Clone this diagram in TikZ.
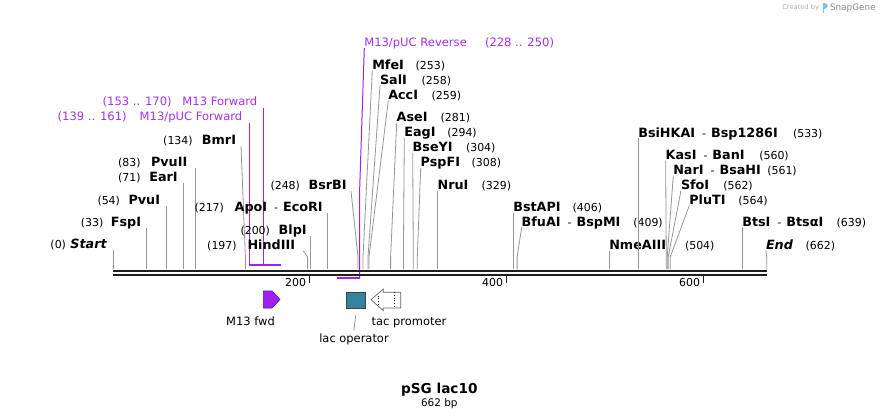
\documentclass[tikz,border=0pt]{standalone}
\usepackage{fontspec}
\setmainfont{DejaVu Sans}
\usetikzlibrary{calc}
\definecolor{primer}{RGB}{160,32,240}
\definecolor{ptext}{RGB}{165,50,240}
\definecolor{opteal}{RGB}{49,132,155}
\definecolor{cutline}{RGB}{150,150,150}
\definecolor{seqline}{RGB}{30,30,30}
\definecolor{logoblue}{RGB}{120,195,240}
\newcommand\nmb[1]{{\fontsize{12.8}{14}\selectfont\bfseries #1}}
\newcommand\nrm[1]{{\fontsize{11}{13}\selectfont #1}}
\newcommand\ptx[1]{{\fontsize{11.6}{13}\selectfont #1}}
\newcommand\hy{\hspace{7bp}{\fontsize{11}{13}\selectfont\mdseries -}\hspace{5bp}}
\tikzset{
  lab/.style={inner sep=0pt, outer sep=0pt, text=black},
  labL/.style={lab, anchor=base east},
  labR/.style={lab, anchor=base west},
  cut/.style={draw=cutline, line width=0.8bp},
  prm/.style={draw=primer, line width=1bp},
  prmbar/.style={draw=primer, line width=1.8bp},
  seq/.style={draw=seqline, line width=2.6bp},
  tickmark/.style={draw=seqline, line width=1.4bp},
}
% left label: id, name right x, y centre, name, line top x, site x, number, number right x
\newcommand\enzL[8]{%
  \node[labL] (#1) at (#2,{#3+4.6}) {\nmb{#4}};
  \node[labL] (#1-n) at (#8,{#3+4.6}) {\nrm{#7}};
  \coordinate (#1-s) at (#6,269);
  \draw[cut] ([shift={({#5-#2},1.4)}]#1.base east) -- ($(#1-s)+(0,-12)$) -- (#1-s);
}
% right label: id, name left x, y centre, name, site x, number, number left x
\newcommand\enzR[7]{%
  \node[labR] (#1) at (#2,{#3+4.6}) {\nmb{#4}};
  \node[labR] (#1-n) at (#7,{#3+4.6}) {\nrm{#6}};
  \coordinate (#1-s) at (#5,269);
  \draw[cut] ([shift={(0,0.9)}]#1.base west) -- ($(#1-s)+(0,-12)$) -- (#1-s);
}
\begin{document}
\begin{tikzpicture}[x=1bp,y=-1bp]
\useasboundingbox (0,0) rectangle (880,419);
\fill[white] (0,0) rectangle (880,419);

% watermark
\node[labR, text=black!30] (cby) at (782.3,9.4) {\fontsize{6.7}{8}\selectfont Created by};
\fill[logoblue] (822.8,3) rectangle (824.4,12.5);
\fill[logoblue] (824.4,3) .. controls (828.5,3) and (828.5,8.5) .. (824.4,8.5) -- cycle;
\node[labR, text=black!45] (sg) at (830,10.4) {\fontsize{8.9}{10}\selectfont SnapGene};

% primers
\node[labL, text=ptext] (m13f) at (257.3,105.9) {\ptx{M13 Forward}};
\node[labL, text=ptext] (m13f-n) at (171.7,105.9) {\ptx{(153 .. 170)}};
\node[labL, text=ptext] (m13pf) at (242.3,120.9) {\ptx{M13/pUC Forward}};
\node[labL, text=ptext] (m13pf-n) at (126.7,120.9) {\ptx{(139 .. 161)}};
\node[labR, text=ptext] (m13r) at (364.3,46.2) {\ptx{M13/pUC Reverse}};
\node[labR, text=ptext] (m13r-n) at (485,46.2) {\ptx{(228 .. 250)}};
\coordinate (fbarL) at (249.3,265);
\coordinate (fbarM) at (263.3,265);
\coordinate (fbarR) at (280.5,265);
\coordinate (rbarL) at (337.3,278.3);
\coordinate (rbarR) at (359.7,278.3);
\draw[prm] ([shift={(6,2.1)}]m13f.base east) -- (fbarM);
\draw[prm] ([shift={(7,2.1)}]m13pf.base east) -- (fbarL);
\draw[prmbar] (fbarL) -- (fbarR);
\draw[prm] ([shift={(0,1.8)}]m13r.base west) -- ($(rbarR)+(0,-90)$) -- (rbarR);
\draw[prmbar] (rbarL) -- (rbarR);

% enzymes, left side
\enzL{start}{106.7}{244}{\itshape Start}{113.3}{113.3}{(0)}{66}
\enzL{fspi}{141}{222}{FspI}{146.7}{146.7}{(33)}{103.3}
\enzL{pvui}{160}{200}{PvuI}{166.7}{166.7}{(54)}{120}
\enzL{eari}{177.7}{176.7}{EarI}{183.3}{183.3}{(71)}{140.7}
\enzL{pvuii}{187.3}{161.7}{PvuII}{195.3}{195.3}{(83)}{140.7}
\enzL{bmri}{236}{140}{BmrI}{241}{245.4}{(134)}{192.7}
\enzL{apoi}{322.7}{206.7}{ApoI\hy EcoRI}{327.3}{327.3}{(217)}{224}
\enzL{bsrbi}{346.7}{185}{BsrBI}{351}{358}{(248)}{300}
\enzL{blpi}{306.7}{230}{BlpI}{310.3}{310.3}{(200)}{270}
\enzL{hind}{295}{245}{HindIII}{303.3}{307.6}{(197)}{236.7}

% enzymes, right side
\enzR{mfei}{372.3}{65}{MfeI}{363}{(253)}{415.7}
\enzR{sali}{380}{80}{SalI}{368}{(258)}{421.7}
\enzR{acci}{388.3}{95}{AccI}{369}{(259)}{431.7}
\enzR{asei}{396.7}{117.3}{AseI}{390.6}{(281)}{440.7}
\enzR{eagi}{404.3}{132.3}{EagI}{403.4}{(294)}{447.3}
\enzR{bseyi}{412.7}{147.3}{BseYI}{413.3}{(304)}{466}
\enzR{pspfi}{420.7}{162.3}{PspFI}{417.3}{(308)}{471.7}
\enzR{nrui}{437.7}{185}{NruI}{437.7}{(329)}{481.7}
\enzR{bstapi}{513.3}{207.3}{BstAPI}{513.3}{(406)}{572.7}
\enzR{bfuai}{521.7}{221.7}{BfuAI\hy BspMI}{517.1}{(409)}{633.3}
\enzR{nme}{609.3}{245}{NmeAIII}{609.3}{(504)}{685}
\enzR{bsihkai}{638.3}{132.7}{BsiHKAI\hy Bsp1286I}{638.3}{(533)}{793}
\enzR{kasi}{665.7}{155}{KasI\hy BanI}{666.2}{(560)}{759.3}
\enzR{nari}{673.3}{170}{NarI\hy BsaHI}{667.2}{(561)}{767.3}
\enzR{sfoi}{681}{185}{SfoI}{668.2}{(562)}{723.3}
\enzR{pluti}{689.3}{200}{PluTI}{670.2}{(564)}{738.3}
\enzR{btsi}{742.3}{221.7}{BtsI\hy BtsαI}{742.3}{(639)}{836.7}
\enzR{end}{766}{245}{\itshape End}{766.7}{(662)}{805.7}

% sequence
\coordinate (seqA) at (113,270.8);
\coordinate (seqB) at (767,270.8);
\coordinate (seqC) at (113,274.8);
\coordinate (seqD) at (767,274.8);
\draw[seq] (seqA) -- (seqB);
\draw[seq] (seqC) -- (seqD);

% ticks
\coordinate (t200) at (309.5,276);
\coordinate (t400) at (506.5,276);
\coordinate (t600) at (703.5,276);
\draw[tickmark] (t200) -- ++(0,6.5);
\draw[tickmark] (t400) -- ++(0,6.5);
\draw[tickmark] (t600) -- ++(0,6.5);
\node[labL] (l200) at (306,286.5) {\nrm{200}};
\node[labL] (l400) at (503,286.5) {\nrm{400}};
\node[labL] (l600) at (700,286.5) {\nrm{600}};

% features
\draw[fill=primer, draw=primer!60!black, line width=0.6bp]
  (263.3,291) -- (272,291) -- (280,299.5) -- (272,308) -- (263.3,308) -- cycle;
\node[lab, anchor=base] (m13fwd) at (250.5,325.9) {\fontsize{11.5}{13}\selectfont M13 fwd};

\node[draw=black!75, fill=opteal, line width=0.6bp, minimum width=18.3bp, minimum height=16.7bp, inner sep=0pt] (lacsq) at (355.8,300.3) {};
\node[lab, anchor=base] (lacop) at (354,342.5) {\fontsize{11.5}{13}\selectfont lac operator};
\draw[cut] ([yshift=-6bp]lacsq.south) -- ([yshift=4bp]lacop.north);

\draw[draw=black!60, fill=white, line width=0.7bp]
  (371,299.7) -- (383.3,289) -- (383.3,292.3) -- (400.7,292.3) -- (400.7,308)
  -- (383.3,308) -- (383.3,310.7) -- cycle;
\draw[black, dotted, line width=0.7bp] (378.3,295.5) -- (378.3,304.5);
\draw[black, dotted, line width=0.7bp] (394,292.3) -- (394,308);
\node[labR] (tacp) at (371.7,325.9) {\fontsize{11.5}{13}\selectfont tac promoter};

% title
\node[lab, anchor=base] (title) at (439.3,393.3) {\fontsize{13.7}{16}\selectfont\bfseries pSG lac10};
\node[lab, anchor=base] (size) at (439.3,406.5) {\fontsize{10.5}{12}\selectfont 662 bp};
\end{tikzpicture}
\end{document}
